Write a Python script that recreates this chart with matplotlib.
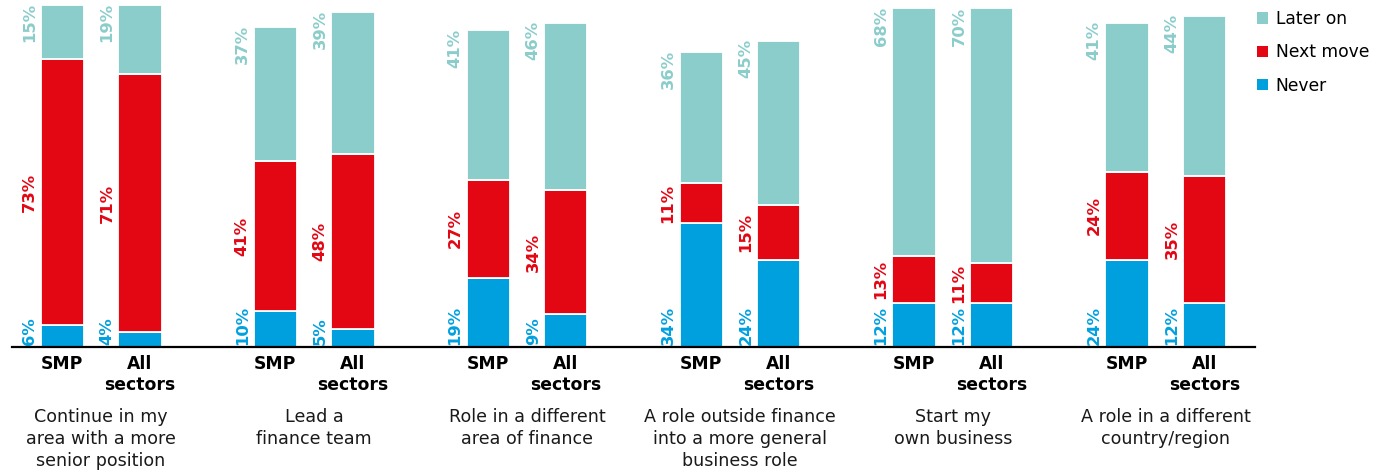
import matplotlib

matplotlib.use("Agg")
import matplotlib.pyplot as plt
import numpy as np
from matplotlib.patches import Patch

plt.rcParams["font.family"] = ["DejaVu Sans"]

# Data (percent of respondents)
groups = [
    "Continue in my\narea with a more\nsenior position",
    "Lead a\nfinance team",
    "Role in a different\narea of finance",
    "A role outside finance\ninto a more general\nbusiness role",
    "Start my\nown business",
    "A role in a different\ncountry/region",
]
bar_names = ["SMP", "All\nsectors"]
series = ["Never", "Next move", "Later on"]

never_smp = [6, 10, 19, 34, 12, 24]
never_all = [4, 5, 9, 24, 12, 12]
next_smp = [73, 41, 27, 11, 13, 24]
next_all = [71, 48, 34, 15, 11, 35]
later_smp = [15, 37, 41, 36, 68, 41]
later_all = [19, 39, 46, 45, 70, 44]

BLUE = "#00a0df"
RED = "#e30613"
TEAL = "#8bcdcb"
colors = [BLUE, RED, TEAL]

W, H = 1398, 474
fig = plt.figure(figsize=(W / 100, H / 100), dpi=100)
ax = fig.add_axes([12 / W, 1 - 347 / H, 1243 / W, 347 / H])

offset = 0.183
width = 0.202
x = np.arange(len(groups))

for pos, vals in [
    (x - offset, (never_smp, next_smp, later_smp)),
    (x + offset, (never_all, next_all, later_all)),
]:
    bottom = np.zeros(len(groups))
    for k, (v, c) in enumerate(zip(vals, colors)):
        v = np.array(v, dtype=float)
        ax.bar(pos, v, width, bottom=bottom, color=c, edgecolor="white",
               linewidth=1.3, zorder=2)
        lx = pos - width / 2 - 0.018
        for i in range(len(groups)):
            if k == 0:
                y, va = 0.5, "bottom"
            elif k == 1:
                y, va = bottom[i] + v[i] / 2, "center"
            else:
                y, va = bottom[i] + v[i] + 0.5, "top"
            ax.text(lx[i], y, f"{int(v[i])}%", rotation=90, ha="right", va=va,
                    color=c, fontsize=11.8, fontweight="bold")
        bottom += v

ax.set_xlim(-0.418, 5.418)
ax.set_ylim(0, 95.3)
for s in ["top", "right", "left"]:
    ax.spines[s].set_visible(False)
ax.spines["bottom"].set_linewidth(1.6)
ax.spines["bottom"].set_zorder(3)
ax.set_xticks([])
ax.set_yticks([])

# Bar labels and group labels below the axis
for i in range(len(groups)):
    for j, name in enumerate(bar_names):
        bx = x[i] + (-offset if j == 0 else offset)
        ax.annotate(name, (bx, 0), xycoords=("data", "axes fraction"),
                    xytext=(0, -6), textcoords="offset points",
                    ha="center", va="top", fontsize=12.4, fontweight="bold",
                    linespacing=1.18)
    ax.annotate(groups[i], (x[i], 0), xycoords=("data", "axes fraction"),
                xytext=(0, -44), textcoords="offset points",
                ha="center", va="top", fontsize=12.6, linespacing=1.27,
                color="#1a1a1a")

handles = [Patch(facecolor=c) for c in colors[::-1]]
fig.legend(handles, series[::-1], loc="upper left",
           bbox_to_anchor=(1250 / W, 1 - 3 / H), frameon=False,
           fontsize=12.3, handlelength=0.65, handleheight=0.65,
           handletextpad=0.45, labelspacing=0.9, borderaxespad=0)

fig.savefig("out.png", dpi=100)
